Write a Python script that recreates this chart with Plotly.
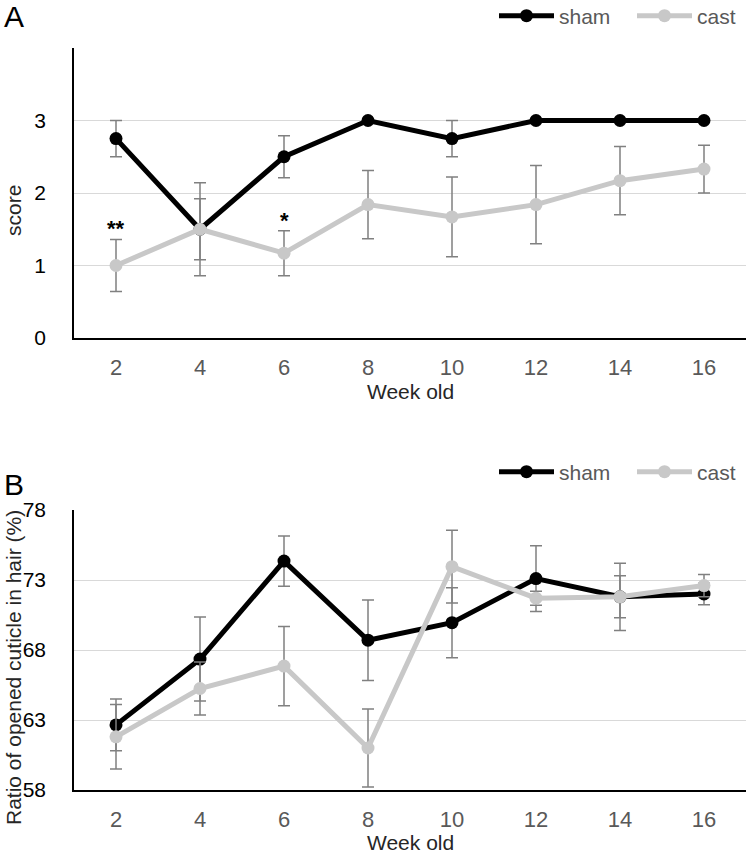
import plotly.graph_objects as go

weeks = [2, 4, 6, 8, 10, 12, 14, 16]

score_sham = [2.75, 1.5, 2.5, 3.0, 2.75, 3.0, 3.0, 3.0]
score_sham_err = [0.25, 0.42, 0.29, 0.0, 0.25, 0.0, 0.0, 0.0]
score_cast = [1.0, 1.5, 1.17, 1.84, 1.67, 1.84, 2.17, 2.33]
score_cast_err = [0.36, 0.64, 0.31, 0.47, 0.55, 0.54, 0.47, 0.33]

ratio_sham = [62.65, 67.35, 74.35, 68.7, 69.95, 73.1, 71.8, 72.0]
ratio_sham_err = [1.85, 3.0, 1.8, 2.88, 2.5, 2.35, 1.5, 0.77]
ratio_cast = [61.8, 65.25, 66.85, 61.0, 73.95, 71.7, 71.8, 72.6]
ratio_cast_err = [2.3, 1.9, 2.83, 2.79, 2.6, 0.5, 2.4, 0.8]

score_ticks = [0, 1, 2, 3, 4]
score_ticktext = ["0", "1", "2", "3", ""]
ratio_ticks = [58, 63, 68, 73, 78]

sig_weeks = [2, 6]
sig_labels = ["**", "*"]

W, H = 746, 856
FONT = "Liberation Sans, Arial, sans-serif"
SHAM = "#000000"
CAST = "#c8c8c8"
ERR = "#808080"

fig = go.Figure()

def add_pair(xa, ya, sham, sham_err, cast, cast_err, legend):
    for name, vals, errs, col in [("sham", sham, sham_err, SHAM), ("cast", cast, cast_err, CAST)]:
        fig.add_trace(go.Scatter(
            x=weeks, y=vals, name=name, mode="lines+markers",
            line=dict(color=col, width=5),
            marker=dict(color=col, size=13),
            error_y=dict(type="data", array=errs, visible=True, color=ERR, thickness=1.5, width=6),
            xaxis=xa, yaxis=ya, legend=legend,
        ))

add_pair("x", "y", score_sham, score_sham_err, score_cast, score_cast_err, "legend")
add_pair("x2", "y2", ratio_sham, ratio_sham_err, ratio_cast, ratio_cast_err, "legend2")

def px_y(p):
    return 1 - p / H

xdom = [74 / W, 1.0]
ax_common = dict(range=[1, 17], tickvals=weeks, showgrid=False, showline=True,
                 linecolor="#000000", linewidth=1.5, ticks="", zeroline=False,
                 tickfont=dict(family=FONT, size=22, color="#595959"),
                 ticklabelstandoff=9, fixedrange=True)
ay_common = dict(showgrid=True, gridcolor="#d9d9d9", gridwidth=1.3, showline=True,
                 linecolor="#000000", linewidth=1.5, ticks="", zeroline=False,
                 tickfont=dict(family=FONT, size=21, color="#000000"),
                 ticklabelstandoff=22, fixedrange=True)

annotations = []
for wk, lab in zip(sig_weeks, sig_labels):
    i = weeks.index(wk)
    annotations.append(dict(x=wk, y=score_cast[i] + score_cast_err[i], xref="x", yref="y",
                            text="<b>" + lab + "</b>", showarrow=False, yanchor="bottom", yshift=-4,
                            font=dict(family=FONT, size=22, color="#000000")))

def label(text, x, y, size=21, color="#262626", angle=0):
    return dict(text=text, x=x / W, y=px_y(y), xref="paper", yref="paper", showarrow=False,
                xanchor="center", yanchor="middle", textangle=angle,
                font=dict(family=FONT, size=size, color=color))

annotations += [
    label("A", 14, 17, size=30, color="#000000"),
    label("B", 14, 485, size=30, color="#000000"),
    label("score", 13, 211, angle=-90),
    label("Ratio of opened cuticle in hair (%)", 13, 668, angle=-90),
    label("Week old", 410, 391),
    label("Week old", 410, 842),
]

leg_common = dict(orientation="h", xanchor="left", yanchor="middle", x=494 / W,
                  font=dict(family=FONT, size=21, color="#595959"),
                  bgcolor="rgba(0,0,0,0)", itemclick=False, itemdoubleclick=False,
                  tracegroupgap=0, itemwidth=55, entrywidth=68, entrywidthmode="pixels")

fig.update_layout(
    width=W, height=H, margin=dict(l=0, r=0, t=0, b=0, autoexpand=False),
    paper_bgcolor="white", plot_bgcolor="white",
    font=dict(family=FONT),
    xaxis=dict(domain=xdom, anchor="y", **ax_common),
    yaxis=dict(domain=[px_y(338), px_y(48)], anchor="x", range=[0, 4],
               tickvals=score_ticks, ticktext=score_ticktext, **ay_common),
    xaxis2=dict(domain=xdom, anchor="y2", **ax_common),
    yaxis2=dict(domain=[px_y(790), px_y(510)], anchor="x2", range=[58, 78],
                tickvals=ratio_ticks, **ay_common),
    legend=dict(y=px_y(16), **leg_common),
    legend2=dict(y=px_y(472), **leg_common),
    annotations=annotations,
    showlegend=True,
)

fig.write_html("out.html", config={"displayModeBar": False},
               post_script="document.body.style.margin='0';document.body.style.overflow='hidden';")
